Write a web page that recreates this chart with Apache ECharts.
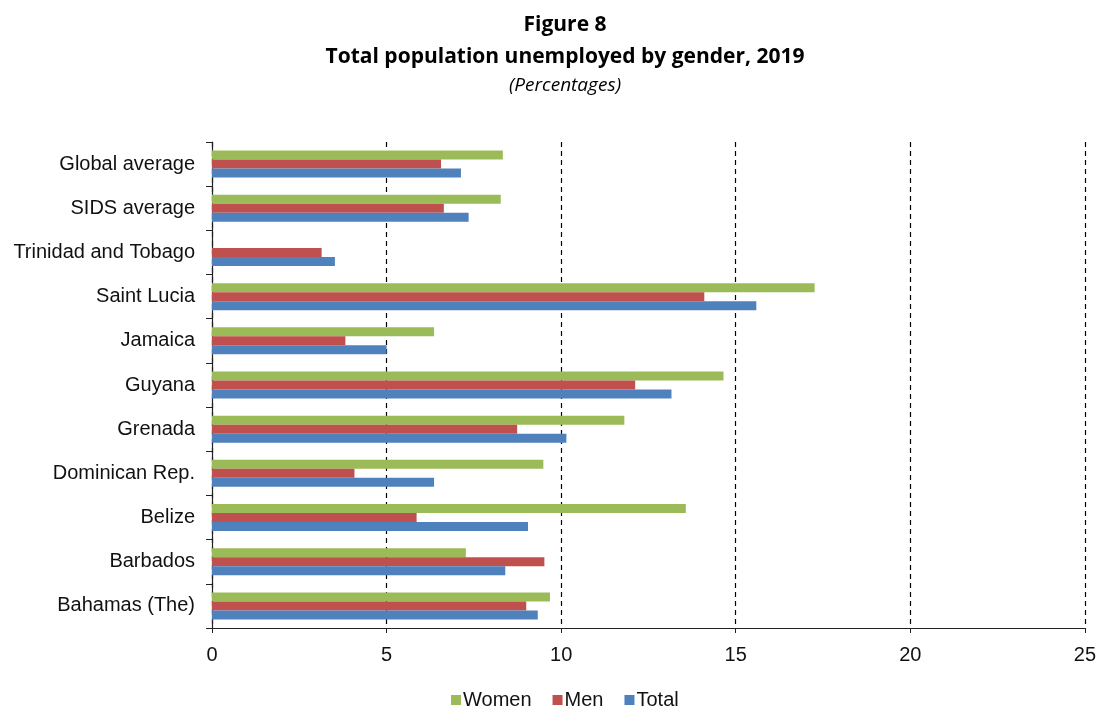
<!DOCTYPE html>
<html>
<head>
<meta charset="utf-8">
<script src="https://cdn.jsdelivr.net/npm/echarts@6/dist/echarts.min.js"></script>
<style>
  html, body { margin: 0; padding: 0; background: #fff; }
  #chart { width: 1099px; height: 709px; }
</style>
</head>
<body>
<div id="chart"></div>
<script>
// Countries listed bottom-to-top along the category axis
const countries = [
  'Bahamas (The)', 'Barbados', 'Belize', 'Dominican Rep.', 'Grenada',
  'Guyana', 'Jamaica', 'Saint Lucia', 'Trinidad and Tobago',
  'SIDS average', 'Global average'
];

// Unemployment rates (%) in the same order as countries
const women = [9.68, 7.27, 13.57, 9.49, 11.81, 14.65, 6.36, 17.26, null, 8.27, 8.33];
const men   = [9.00, 9.52, 5.86, 4.08, 8.74, 12.12, 3.82, 14.10, 3.14, 6.64, 6.56];
const total = [9.33, 8.40, 9.05, 6.36, 10.15, 13.16, 5.00, 15.59, 3.52, 7.35, 7.13];

const xTicks = [0, 5, 10, 15, 20, 25];

const chart = echarts.init(document.getElementById('chart'), null, { renderer: 'canvas' });

const titleFont = '"Open Sans", Lato, sans-serif';
const bodyFont = '"Liberation Sans", Arial, sans-serif';

chart.setOption({
  animation: false,
  backgroundColor: '#ffffff',
  title: [
    { text: 'Figure 8', left: 560, top: 10, textAlign: 'center',
      textStyle: { fontFamily: titleFont, fontSize: 21, fontWeight: 'bold', color: '#000' } },
    { text: 'Total population unemployed by gender, 2019', left: 560, top: 42, textAlign: 'center',
      textStyle: { fontFamily: titleFont, fontSize: 21, fontWeight: 'bold', color: '#000' } },
    { text: '(Percentages)', left: 560, top: 71, textAlign: 'center',
      textStyle: { fontFamily: titleFont, fontSize: 19, fontStyle: 'italic', fontWeight: 'normal', color: '#000' } }
  ],
  legend: {
    data: ['Women', 'Men', 'Total'],
    bottom: -6,
    left: 446,
    itemWidth: 10,
    itemHeight: 10,
    itemGap: 21,
    icon: 'rect',
    textStyle: { fontFamily: bodyFont, fontSize: 20, color: '#111', padding: [0, 0, 0, -3] }
  },
  grid: { left: 212, right: 11, top: 142, bottom: 81, containLabel: false },
  xAxis: {
    type: 'value',
    min: 0,
    max: 25,
    interval: 5,
    axisLine: { show: true, lineStyle: { color: '#222', width: 1.2 } },
    axisTick: { show: true, length: 5, lineStyle: { color: '#222' } },
    axisLabel: {
      fontFamily: bodyFont, fontSize: 20, color: '#111', margin: 17,
      formatter: v => (xTicks.indexOf(v) >= 0 ? String(v) : '')
    },
    splitLine: { show: true, lineStyle: { color: '#000', type: [5, 4], width: 1.2 } }
  },
  yAxis: {
    type: 'category',
    data: countries,
    axisLine: { show: true, lineStyle: { color: '#222', width: 1.2 } },
    axisTick: { show: true, length: 6, lineStyle: { color: '#222' } },
    axisLabel: { fontFamily: bodyFont, fontSize: 20, color: '#111', margin: 17 },
    splitLine: { show: false }
  },
  series: [
    { name: 'Women', type: 'bar', data: women, barWidth: 9, barGap: '0%',
      itemStyle: { color: '#9BBB59' } },
    { name: 'Men', type: 'bar', data: men, barWidth: 9, barGap: '0%',
      itemStyle: { color: '#C0504D' } },
    { name: 'Total', type: 'bar', data: total, barWidth: 9, barGap: '0%',
      itemStyle: { color: '#4F81BD' } }
  ]
});
</script>
</body>
</html>
